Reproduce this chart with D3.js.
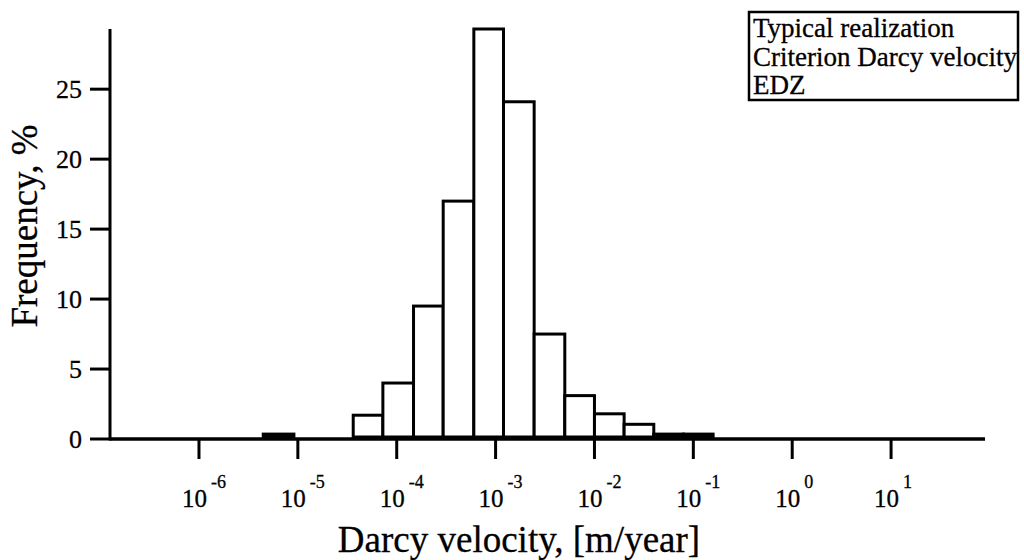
<!DOCTYPE html>
<html>
<head>
<meta charset="utf-8">
<script src="https://cdn.jsdelivr.net/npm/d3@7"></script>
<style>
  html, body { margin: 0; padding: 0; background: #fff; }
  svg { display: block; }
  text { font-family: "Liberation Serif", "Times New Roman", serif; fill: #000; stroke: #000; stroke-width: 0.3px; }
</style>
</head>
<body>
<svg id="chart" width="1024" height="560"></svg>
<script>
// ---- data ----
// histogram bins: lower and upper edge (log10 of Darcy velocity, m/year) and frequency (%)
const binLowLog  = [-5.35, -4.44, -4.14, -3.83, -3.53, -3.22, -2.92, -2.61, -2.30, -2.00, -1.70, -1.40, -1.10];
const binHighLog = [-5.04, -4.14, -3.83, -3.53, -3.22, -2.92, -2.61, -2.30, -2.00, -1.70, -1.40, -1.10, -0.80];
const frequency  = [0.35, 1.7, 4.0, 9.5, 17.0, 29.3, 24.1, 7.5, 3.1, 1.8, 1.05, 0.35, 0.35];
const xTickExponents = [-6, -5, -4, -3, -2, -1, 0, 1];
const yTickValues = [0, 5, 10, 15, 20, 25];
const legendLines = ["Typical realization", "Criterion Darcy velocity", "EDZ"];
const xTitle = "Darcy velocity, [m/year]";
const yTitle = "Frequency, %";

// ---- layout ----
const svg = d3.select("#chart");
const x = d3.scaleLog().domain([Math.pow(10, -6.9), Math.pow(10, 1.95)]).range([110, 985]);
const y = d3.scaleLinear().domain([0, 29.3]).range([439, 29]);

const bins = frequency.map((f, i) => ({
  lo: Math.pow(10, binLowLog[i]),
  hi: Math.pow(10, binHighLog[i]),
  f: f
}));

// bars
svg.append("g").selectAll("rect").data(bins).join("rect")
  .attr("x", d => x(d.lo))
  .attr("width", d => x(d.hi) - x(d.lo))
  .attr("y", d => y(d.f))
  .attr("height", d => y(0) - y(d.f) - 2)
  .attr("fill", "#fff")
  .attr("stroke", "#000")
  .attr("stroke-width", 3);

// y axis
const yAxis = svg.append("g");
yAxis.append("line")
  .attr("x1", x.range()[0]).attr("x2", x.range()[0])
  .attr("y1", y(0) + 1.5).attr("y2", y.range()[1])
  .attr("stroke", "#000").attr("stroke-width", 3);
yAxis.selectAll("line.tick").data(yTickValues).join("line")
  .attr("class", "tick")
  .attr("x1", x.range()[0] - 20).attr("x2", x.range()[0])
  .attr("y1", d => y(d)).attr("y2", d => y(d))
  .attr("stroke", "#000").attr("stroke-width", 3);
yAxis.selectAll("text").data(yTickValues).join("text")
  .attr("x", x.range()[0] - 28)
  .attr("y", d => y(d))
  .attr("dy", "0.35em")
  .attr("text-anchor", "end")
  .attr("font-size", 26)
  .text(d => d);

// x axis
const xAxis = svg.append("g");
xAxis.append("line")
  .attr("x1", x.range()[0]).attr("x2", x.range()[1])
  .attr("y1", y(0)).attr("y2", y(0))
  .attr("stroke", "#000").attr("stroke-width", 3.5);
xAxis.selectAll("line.tick").data(xTickExponents).join("line")
  .attr("class", "tick")
  .attr("x1", d => x(Math.pow(10, d))).attr("x2", d => x(Math.pow(10, d)))
  .attr("y1", y(0)).attr("y2", y(0) + 20)
  .attr("stroke", "#000").attr("stroke-width", 3);
const xl = xAxis.selectAll("g.lab").data(xTickExponents).join("g").attr("class", "lab");
xl.append("text")
  .attr("x", d => x(Math.pow(10, d)) + 8)
  .attr("y", 507)
  .attr("text-anchor", "end")
  .attr("font-size", 25)
  .text("10");
xl.append("text")
  .attr("x", d => x(Math.pow(10, d)) + 12)
  .attr("y", 488)
  .attr("text-anchor", "start")
  .attr("font-size", 18)
  .text(d => d);

// titles
svg.append("text")
  .attr("x", 519).attr("y", 552)
  .attr("text-anchor", "middle")
  .attr("font-size", 37)
  .text(xTitle);
svg.append("text")
  .attr("transform", "translate(37,226) rotate(-90)")
  .attr("text-anchor", "middle")
  .attr("font-size", 37)
  .text(yTitle);

// legend box
const lg = svg.append("g");
lg.append("rect")
  .attr("x", 749).attr("y", 12).attr("width", 269).attr("height", 88)
  .attr("fill", "#fff").attr("stroke", "#000").attr("stroke-width", 2.5);
lg.selectAll("text").data(legendLines).join("text")
  .attr("x", 753)
  .attr("y", (d, i) => 37 + i * 28.5)
  .attr("font-size", 27)
  .text(d => d);
</script>
</body>
</html>
